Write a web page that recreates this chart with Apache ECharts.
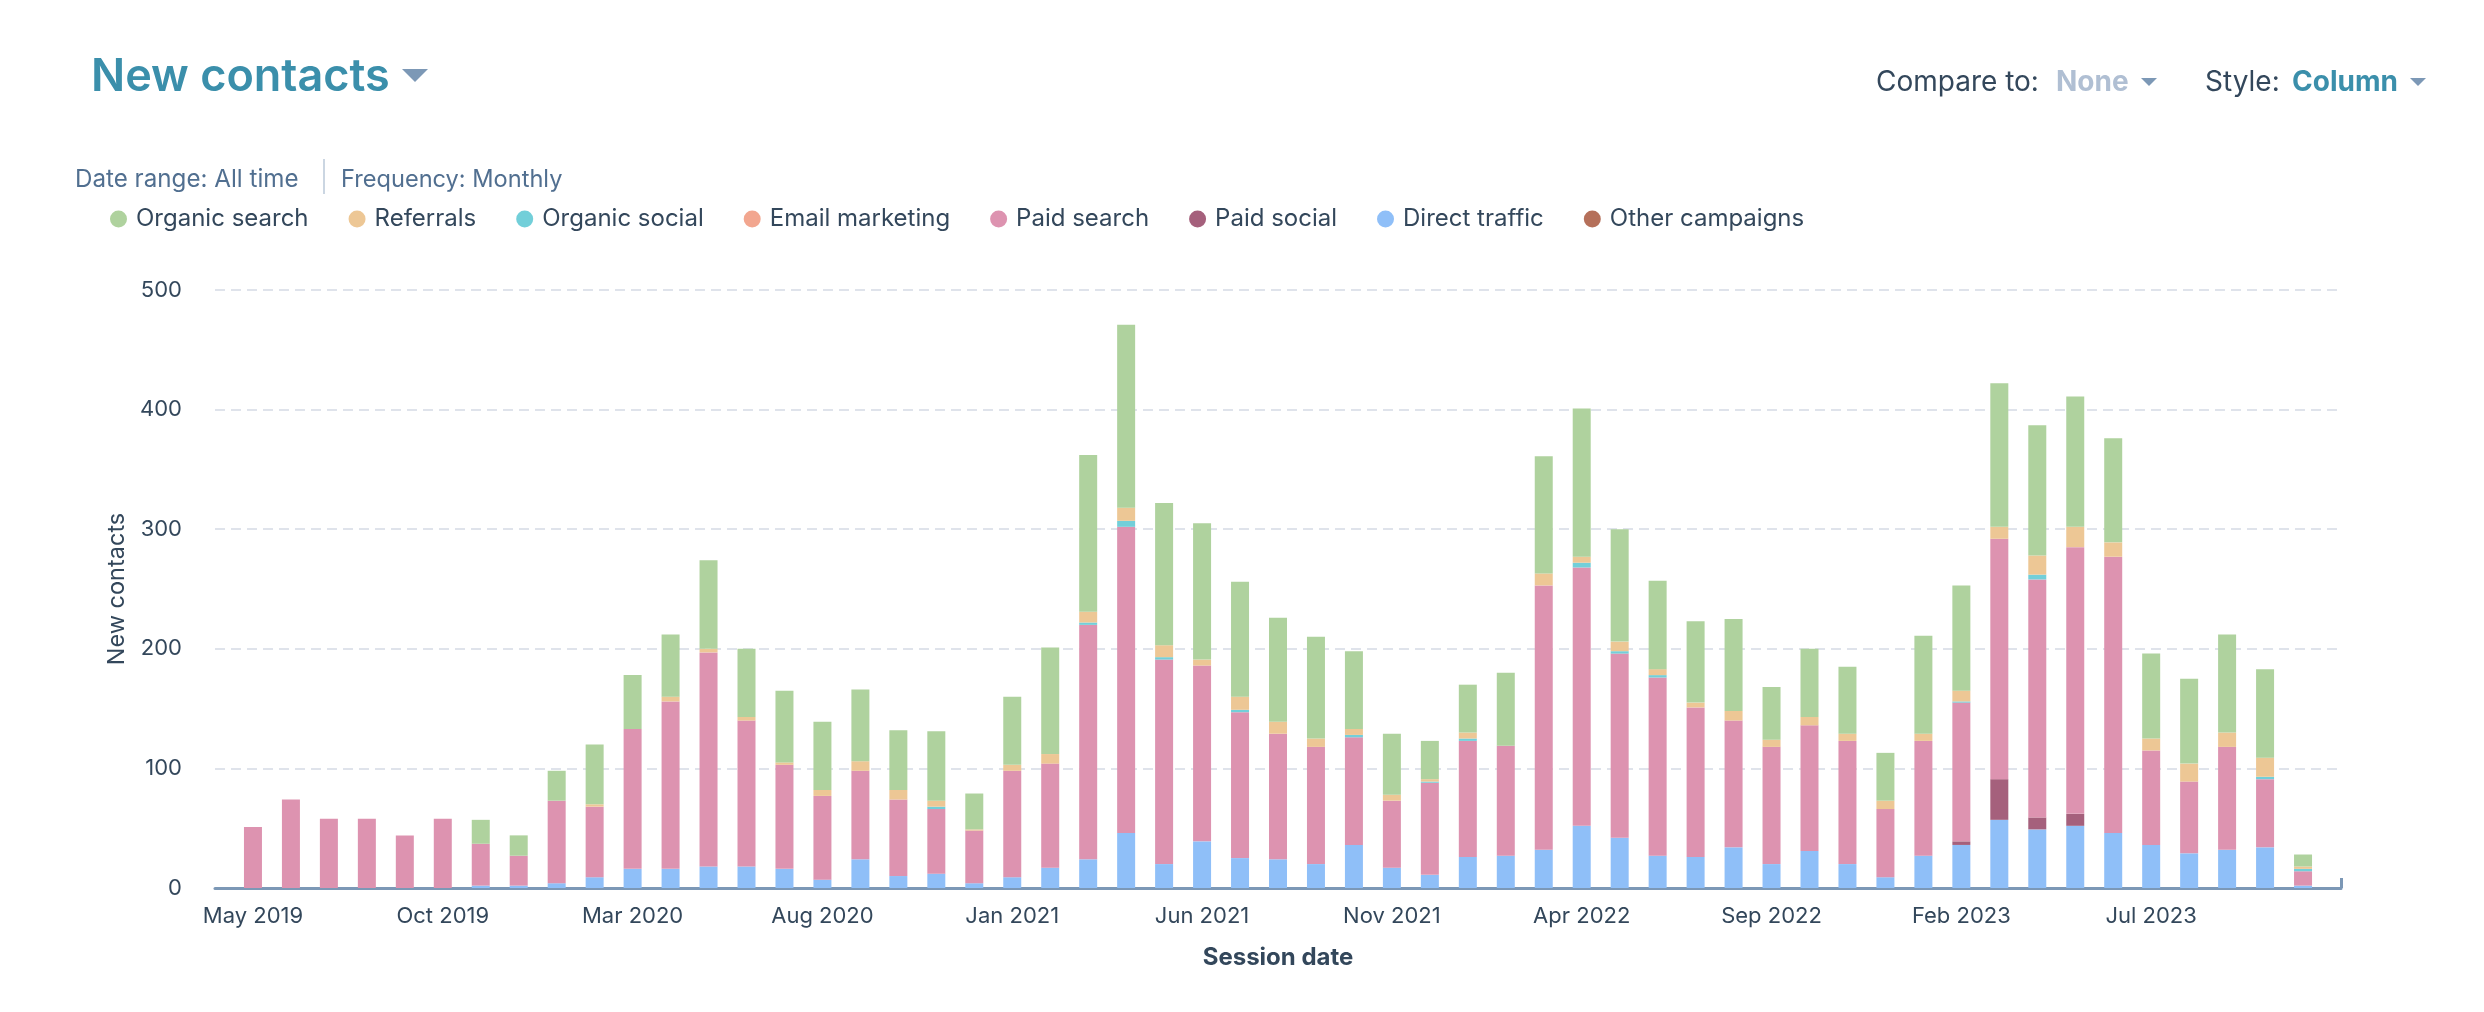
<!DOCTYPE html>
<html>
<head>
<meta charset="utf-8">
<title>New contacts</title>
<style>
  html, body { margin: 0; background: #fff; }
  #chart { width: 2484px; height: 1012px; }
</style>
<script src="https://cdn.jsdelivr.net/npm/echarts@6/dist/echarts.min.js"></script>
</head>
<body>
<div id="chart"></div>
<script>
// one row per 10 months, starting May 2019
const months = [
  "May 2019", "Jun 2019", "Jul 2019", "Aug 2019", "Sep 2019", "Oct 2019", "Nov 2019", "Dec 2019", "Jan 2020", "Feb 2020",
  "Mar 2020", "Apr 2020", "May 2020", "Jun 2020", "Jul 2020", "Aug 2020", "Sep 2020", "Oct 2020", "Nov 2020", "Dec 2020",
  "Jan 2021", "Feb 2021", "Mar 2021", "Apr 2021", "May 2021", "Jun 2021", "Jul 2021", "Aug 2021", "Sep 2021", "Oct 2021",
  "Nov 2021", "Dec 2021", "Jan 2022", "Feb 2022", "Mar 2022", "Apr 2022", "May 2022", "Jun 2022", "Jul 2022", "Aug 2022",
  "Sep 2022", "Oct 2022", "Nov 2022", "Dec 2022", "Jan 2023", "Feb 2023", "Mar 2023", "Apr 2023", "May 2023", "Jun 2023",
  "Jul 2023", "Aug 2023", "Sep 2023", "Oct 2023", "Nov 2023",
];
const organicSearch = [
  0, 0, 0, 0, 0, 0, 20, 17, 25, 50,
  45, 52, 74, 57, 60, 57, 60, 50, 58, 30,
  57, 89, 131, 153, 119, 114, 96, 87, 85, 65,
  51, 32, 40, 61, 98, 124, 94, 74, 68, 77,
  44, 57, 56, 40, 82, 88, 120, 109, 109, 87,
  71, 71, 82, 74, 10,
];
const referrals = [
  0, 0, 0, 0, 0, 0, 0, 0, 0, 2,
  0, 4, 3, 3, 2, 5, 8, 8, 5, 1,
  5, 8, 9, 11, 10, 5, 11, 10, 7, 5,
  5, 2, 5, 0, 10, 5, 8, 5, 4, 8,
  6, 7, 6, 7, 6, 9, 10, 16, 17, 12,
  10, 15, 12, 16, 2,
];
const organicSocial = [
  0, 0, 0, 0, 0, 0, 0, 0, 0, 0,
  0, 0, 0, 0, 0, 0, 0, 0, 2, 0,
  0, 0, 2, 5, 2, 0, 2, 0, 0, 2,
  0, 1, 2, 0, 0, 4, 2, 2, 0, 0,
  0, 0, 0, 0, 0, 1, 0, 4, 0, 0,
  0, 0, 0, 2, 2,
];
const emailMarketing = new Array(months.length).fill(0);
const paidSearch = [
  51, 74, 58, 58, 44, 58, 35, 25, 69, 59,
  117, 140, 179, 122, 87, 70, 74, 64, 54, 44,
  89, 87, 196, 256, 171, 147, 122, 105, 98, 90,
  56, 77, 97, 92, 221, 216, 154, 149, 125, 106,
  98, 105, 103, 57, 96, 116, 201, 199, 223, 231,
  79, 60, 86, 57, 12,
];
const paidSocial = [
  0, 0, 0, 0, 0, 0, 0, 0, 0, 0,
  0, 0, 0, 0, 0, 0, 0, 0, 0, 0,
  0, 0, 0, 0, 0, 0, 0, 0, 0, 0,
  0, 0, 0, 0, 0, 0, 0, 0, 0, 0,
  0, 0, 0, 0, 0, 3, 34, 10, 10, 0,
  0, 0, 0, 0, 0,
];
const directTraffic = [
  0, 0, 0, 0, 0, 0, 2, 2, 4, 9,
  16, 16, 18, 18, 16, 7, 24, 10, 12, 4,
  9, 17, 24, 46, 20, 39, 25, 24, 20, 36,
  17, 11, 26, 27, 32, 52, 42, 27, 26, 34,
  20, 31, 20, 9, 27, 36, 57, 49, 52, 46,
  36, 29, 32, 34, 2,
];
const otherCampaigns = new Array(months.length).fill(0);

const legendOrder = [
  "Organic search", "Referrals", "Organic social", "Email marketing",
  "Paid search", "Paid social", "Direct traffic", "Other campaigns",
];
// stacked bottom to top
const stackOrder = [
  { name: "Other campaigns", values: otherCampaigns, color: "#B5705A" },
  { name: "Direct traffic", values: directTraffic, color: "#8FBFF8" },
  { name: "Paid social", values: paidSocial, color: "#A5607C" },
  { name: "Paid search", values: paidSearch, color: "#DD93B0" },
  { name: "Email marketing", values: emailMarketing, color: "#F2A68F" },
  { name: "Organic social", values: organicSocial, color: "#72CFD9" },
  { name: "Referrals", values: referrals, color: "#EDC795" },
  { name: "Organic search", values: organicSearch, color: "#AFD29E" },
];

const labelledMonths = ["May 2019", "Oct 2019", "Mar 2020", "Aug 2020", "Jan 2021", "Jun 2021", "Nov 2021", "Apr 2022", "Sep 2022", "Feb 2023", "Jul 2023"];

// the axis runs one empty month past the data on both sides
const axisMonths = ["", ...months, ""];

const fontFamily = "Inter, 'Noto Sans', sans-serif";
const dark = "#33475B";
const slate = "#7C98B6";
const teal = "#3B8FAB";

const headerText = (text, x, y, fontSize, fill, fontWeight = 400) => ({
  type: "text",
  x,
  y,
  silent: true,
  style: { text, fontFamily, fontSize, fontWeight, fill, textVerticalAlign: "middle" },
});
const caret = (x, y, w, h) => ({
  type: "polygon",
  silent: true,
  shape: { points: [[x, y], [x + w, y], [x + w / 2, y + h]] },
  style: { fill: slate },
});

const myChart = echarts.init(document.getElementById("chart"), null, { renderer: "canvas" });

myChart.setOption({
  animation: false,
  backgroundColor: "#fff",
  textStyle: { fontFamily },
  grid: { left: 215, right: 143, top: 290, bottom: 124 },
  legend: {
    data: legendOrder,
    left: 105,
    top: 202,
    icon: "circle",
    itemWidth: 17,
    itemHeight: 17,
    itemGap: 40,
    selectedMode: false,
    textStyle: { color: dark, fontSize: 24, fontFamily, padding: [0, 0, 0, 4] },
  },
  graphic: [
    headerText("New contacts", 91, 77, 45, teal, 600),
    caret(402, 69, 26, 13),
    headerText("Compare to:", 1876, 83, 28, dark),
    headerText("None", 2056, 83, 28, "#B0BFD3", 700),
    caret(2141, 78, 16, 8),
    headerText("Style:", 2205, 83, 28, dark),
    headerText("Column", 2292, 83, 28, teal, 700),
    caret(2410, 78, 16, 8),
    headerText("Date range: All time", 75, 180, 24.2, "#516F90"),
    { type: "rect", silent: true, shape: { x: 323, y: 159, width: 2, height: 35 }, style: { fill: "#CBD6E2" } },
    headerText("Frequency: Monthly", 341, 180, 23.6, "#516F90"),
  ],
  xAxis: {
    type: "category",
    data: axisMonths,
    boundaryGap: false,
    name: "Session date",
    nameLocation: "middle",
    nameGap: 70,
    nameTextStyle: { color: dark, fontSize: 24, fontWeight: 700, verticalAlign: "middle" },
    splitLine: { show: false },
    axisLine: { show: true, lineStyle: { color: slate, width: 3 } },
    axisTick: {
      show: true,
      inside: true,
      length: 10,
      interval: (index) => index === axisMonths.length - 1,
      lineStyle: { color: slate, width: 3 },
    },
    axisLabel: {
      color: dark,
      fontSize: 22,
      margin: 17,
      interval: (index, value) => labelledMonths.includes(value),
    },
  },
  yAxis: {
    type: "value",
    min: 0,
    max: 500,
    interval: 100,
    name: "New contacts",
    nameLocation: "middle",
    nameGap: 97,
    nameRotate: 90,
    nameTextStyle: { color: dark, fontSize: 23.5, verticalAlign: "middle" },
    axisLine: { show: false },
    axisTick: { show: false },
    axisLabel: { color: dark, fontSize: 22, margin: 33 },
    splitLine: { lineStyle: { color: "#DFE3EB", width: 2, type: [10, 6] } },
  },
  series: stackOrder.map((s) => ({
    name: s.name,
    type: "bar",
    stack: "contacts",
    barWidth: 18,
    itemStyle: { color: s.color },
    data: [null, ...s.values, null],
  })),
});
</script>
</body>
</html>
